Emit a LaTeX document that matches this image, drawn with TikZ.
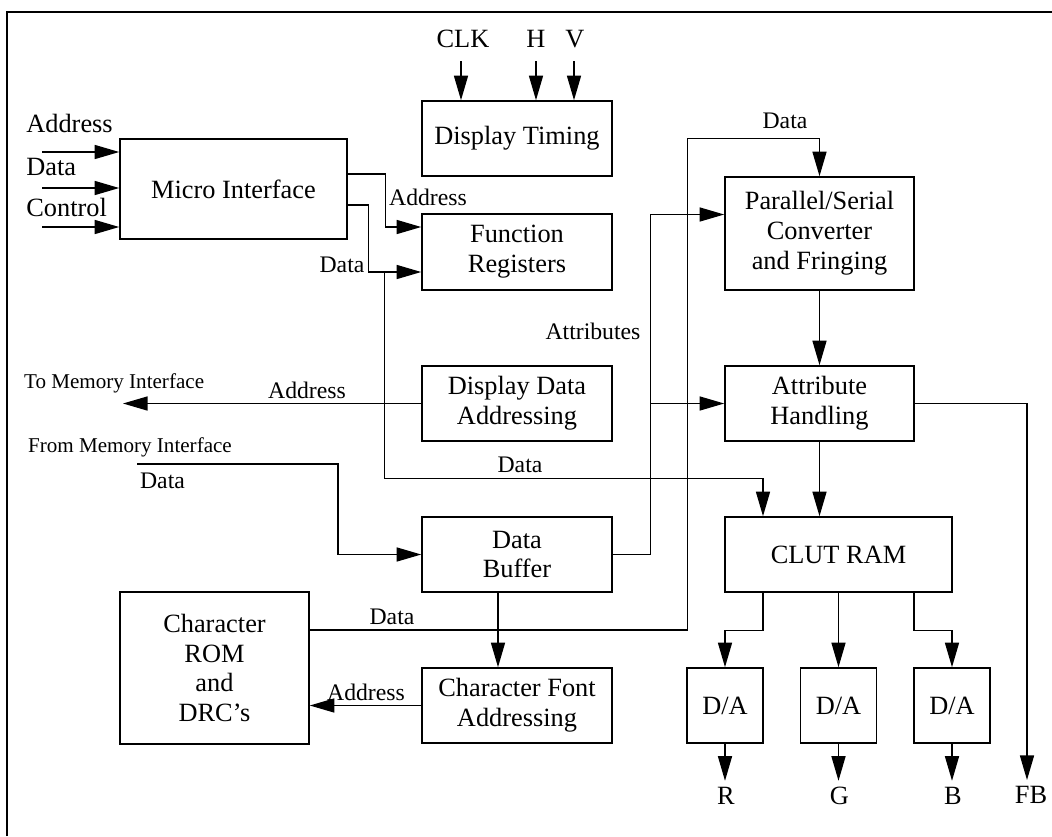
\documentclass[tikz,border=0pt]{standalone}
\usepackage{fontspec}
\setmainfont{Liberation Serif}
\usepackage{tikz}
\usetikzlibrary{positioning, arrows.meta, calc}

\begin{document}
\begin{tikzpicture}[
			x=0.02cm, y=-0.02cm,
			font=\fontsize{15}{17}\selectfont,
			block/.style={draw, line width=0.9pt, align=center, inner sep=0pt, minimum width=3.8cm, minimum height=1.5cm},
			arr/.style={-{Triangle[length=14pt, width=8pt]}, line width=0.75pt},
			lbl/.style={font=\fontsize{13.5}{15}\selectfont, inner sep=1pt},
			small/.style={font=\fontsize{12}{14}\selectfont, inner sep=1pt, anchor=west}]
	
	\useasboundingbox (0,0) rectangle (1052,836);
	\draw[line width=1.6pt] (7,836) -- (7,12) -- (1052,12);
	
	\node[block, minimum width=4.54cm, minimum height=2cm] (micro) at (233.5,189) {Micro Interface};
	\node[block] (timing) at (517,138.5) {Display Timing};
	\node[block, minimum height=1.52cm] (funcreg) at (517,252) {Function\\Registers};
	\node[block] (dispaddr) at (517,403.5) {Display Data\\Addressing};
	\node[block] (databuf) at (517,554.5) {Data\\Buffer};
	\node[block] (fontaddr) at (517,705.5) {Character Font\\Addressing};
	\node[block, minimum width=3.78cm, minimum height=3.04cm] (charrom) at (214.5,668) {Character\\ROM\\and\\DRC’s};
	\node[block, minimum width=3.78cm, minimum height=2.26cm] (parser) at (819.5,233.5) {Parallel/Serial\\Converter\\and Fringing};
	\node[block, minimum width=3.78cm] (attr) at (819.5,403.5) {Attribute\\Handling};
	\node[block, minimum width=4.54cm] (clut) at (838.5,554.5) {CLUT RAM};
	\foreach \i/\x in {1/725, 2/838.5, 3/952}
		\node[block, minimum width=1.52cm] (da\i) at (\x,705.5) {D/A};
	
	\foreach \name/\y/\ly in {Address/152/123, Data/188/167, Control/227/207} {
		\node[anchor=west, inner sep=0pt] (in\name) at (26,\ly) {\name};
		\coordinate (p\name) at (42,\y);
		\draw[arr] (p\name) -- (p\name -| micro.west);
	}
	\foreach \name/\x/\lx in {CLK/461/463, H/536/536, V/574/575} {
		\node (t\name) at (\lx,39) {\name};
		\coordinate (c\name) at (\x,61);
		\draw[arr] (c\name) -- (c\name |- timing.north);
	}
	
	\draw[arr] ($(micro.east)+(0,-15)$) -- ++(38,0) |- ($(funcreg.west)+(0,-25)$);
	\draw[arr] ($(micro.east)+(0,16)$) -- ++(21,0) |- ($(funcreg.west)+(0,20)$);
	\node[lbl] (lfa) at (428,197) {Address};
	\node[lbl] (lfd) at (342,265) {Data};
	
	\coordinate (dtap) at ($(funcreg.west)+(-37,20)$);
	\draw[arr] (dtap) |- ($(clut.north)+(-75.5,-38)$) -- ($(clut.north)+(-75.5,0)$);
	\node[lbl] (lcd) at (520,465) {Data};
	
	\coordinate (tomem) at (123,403.5);
	\draw[arr] (dispaddr.west) -- (tomem);
	\node[small] (ltm) at (22,383) {To Memory Interface};
	\node[lbl] (lma) at (307,390) {Address};
	
	\coordinate (frommem) at (137,464);
	\draw[arr] (frommem) -- ++(201,0) |- (databuf.west);
	\node[small] (lfm) at (26,447) {From Memory Interface};
	\node[lbl, anchor=west] (lmd) at (138,481) {Data};
	
	\coordinate (atap) at ($(databuf.east)+(38,0)$);
	\draw[arr] (databuf.east) -- (atap) |- ($(parser.west)+(0,-19)$);
	\draw[arr] (atap |- attr.west) -- (attr.west);
	\node[lbl] (lat) at (593,331) {Attributes};
	
	\draw[arr] ($(charrom.east)+(0,-38)$) -- ++(378,0) |- ($(parser.north)+(0,-38)$) -- (parser.north);
	\node[lbl] (lrd) at (392,617) {Data};
	\node[lbl] (lpd) at (785,121) {Data};
	
	\draw[arr] ($(databuf.south)+(-19,0)$) -- ($(fontaddr.north)+(-19,0)$);
	\draw[arr] (fontaddr.west) -- (fontaddr.west -| charrom.east);
	\node[lbl] (lca) at (366,692) {Address};
	
	\draw[arr] (parser.south) -- (attr.north);
	\draw[arr] (attr.south) -- (attr.south |- clut.north);
	
	\coordinate (fbend) at (1027,780);
	\draw[arr] (attr.east) -| (fbend);
	\node (lfb) at (1031,795) {FB};
	
	\draw[arr] ($(clut.south)+(-75.5,0)$) -- ++(0,38) -| (da1.north);
	\draw[arr] (clut.south) -- (da2.north);
	\draw[arr] ($(clut.south)+(75.5,0)$) -- ++(0,38) -| (da3.north);
	\foreach \i/\c in {1/R, 2/G, 3/B} {
		\draw[arr] (da\i.south) -- ++(0,37);
		\node (out\i) at ($(da\i.south)+(1,52)$) {\c};
	}
\end{tikzpicture}
\end{document}
